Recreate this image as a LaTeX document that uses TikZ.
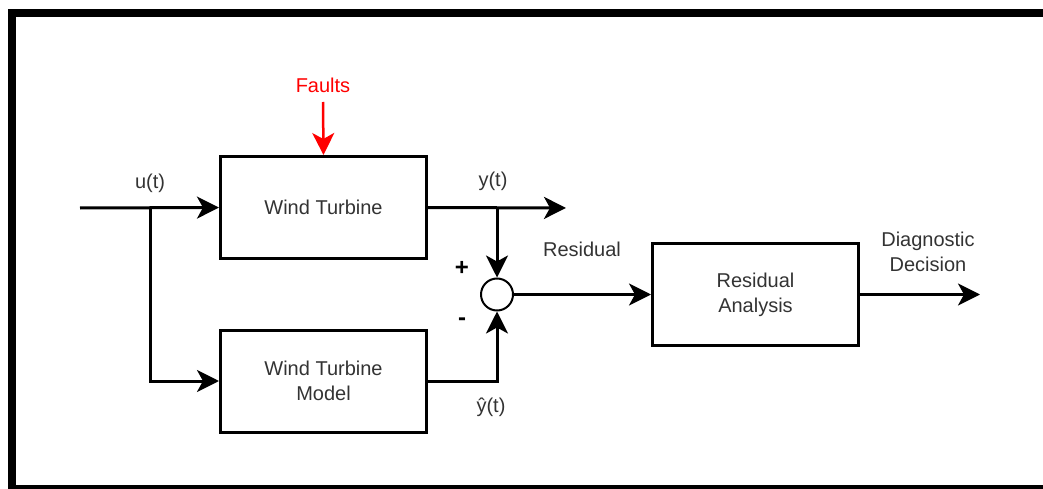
\documentclass[tikz,border=0pt]{standalone}
\usepackage{fontspec}
\setmainfont{Liberation Sans}
\usetikzlibrary{arrows.meta}
\definecolor{txt}{HTML}{333333}
\definecolor{fault}{HTML}{FF0000}
\begin{document}
\begin{tikzpicture}[x=1pt,y=-1pt,
  blk/.style={draw, line width=3pt, minimum width=206pt, minimum height=102pt, inner sep=0pt, align=center, font=\fontsize{20}{25}\selectfont, text=txt},
  lbl/.style={font=\fontsize{20}{25}\selectfont, text=txt, align=center, inner sep=0pt},
  sgn/.style={font=\fontsize{24}{25}\selectfont\bfseries, text=black, inner sep=0pt},
  wire/.style={line width=3pt, -{Stealth[length=22pt,width=22pt,inset=6pt]}},
  sumnode/.style={circle, draw, line width=2pt, minimum size=32pt, inner sep=0pt}
]
\useasboundingbox (0,0) rectangle (1043,489);
% frame
\draw[line width=8pt] (12,493) -- (12,13) -- (1047,13);
\draw[line width=8pt] (12,489) -- (1047,489);

% blocks
\node[blk] (wt) at (323.5,207.5) {Wind Turbine};
\node[blk] (wtm) at (323.5,381) {Wind Turbine\\Model};
\node[blk] (ra) at (755.5,294.5) {Residual\\Analysis};
\node[sumnode] (sum) at (497,294.5) {};

% coordinates
\coordinate (in) at (80,208);
\coordinate (br) at (150,208);
\coordinate (brd) at (150,381);
\coordinate (yout) at (566,208);
\coordinate (ybr) at (497,208);
\coordinate (mc) at (497,381);
\coordinate (dout) at (980,294.5);
\coordinate (fs) at (323,102);

% labels
\node[lbl] (ul) at (150,183) {u(t)};
\node[lbl] (yl) at (493,181) {y(t)};
\node[lbl] (yhl) at (491,407) {ŷ(t)};
\node[lbl] (rl) at (582,249) {Residual};
\node[sgn] (pl) at (462,268) {+};
\node[sgn] (ml) at (462,322) {-};
\node[lbl] (dl) at (928,252) {Diagnostic\\Decision};
\node[lbl, text=fault] (fl) at (323,85) {Faults};

% connectors
\draw[wire] (in) -- (wt.west);
\draw[wire] (br) -- (brd) -- (wtm.west);
\draw[wire] (wt.east) -- (yout);
\draw[wire] (ybr) -- (sum.north);
\draw[wire] (wtm.east) -- (mc) -- (sum.south);
\draw[wire] (sum.east) -- (ra.west);
\draw[wire] (ra.east) -- (dout);
\draw[wire, draw=fault, fill=fault, line width=2.5pt] (fs) -- (wt.north);
\end{tikzpicture}
\end{document}
